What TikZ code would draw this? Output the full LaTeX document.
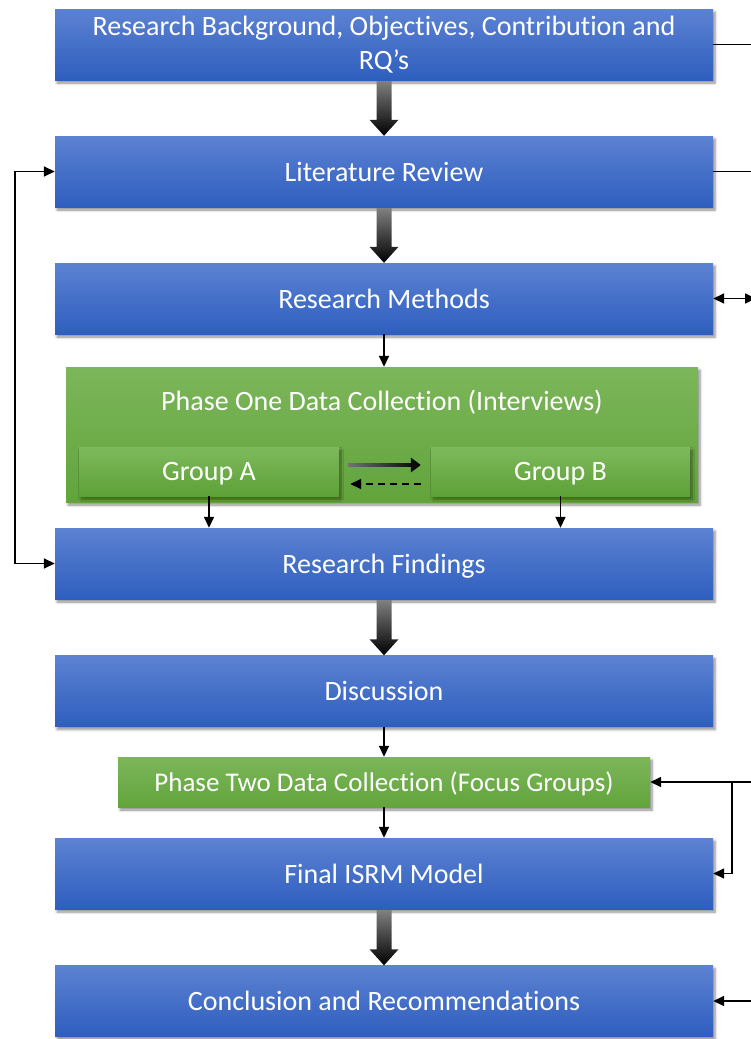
\documentclass[tikz,border=0pt]{standalone}
\usepackage{fontspec}
\setmainfont{Carlito}[RawFeature=-liga]
\usetikzlibrary{arrows.meta,calc,shadows.blur}

\definecolor{blueTop}{RGB}{92,130,210}
\definecolor{blueBot}{RGB}{46,94,190}
\definecolor{greenTop}{RGB}{124,182,90}
\definecolor{greenBot}{RGB}{98,164,60}
\definecolor{gboxTop}{RGB}{126,186,92}
\definecolor{gboxBot}{RGB}{94,160,56}

\begin{document}
\begin{tikzpicture}[x=1pt,y=-1pt,
  boxshadow/.style={blur shadow={shadow xshift=2pt, shadow yshift=-3pt, shadow opacity=45, shadow blur steps=6, shadow blur radius=2.5pt}},
  bluebox/.style={rectangle, inner sep=0pt, minimum width=658pt, minimum height=71pt,
    top color=blueTop, bottom color=blueBot, text=white, align=center, text depth=0pt,
    font=\fontsize{28}{34}\selectfont, boxshadow},
  greenbox/.style={rectangle, inner sep=0pt, top color=greenTop, bottom color=greenBot,
    text=white, align=center, text depth=0pt, boxshadow},
  groupbox/.style={rectangle, inner sep=0pt, minimum width=260pt, minimum height=49pt, text depth=0pt,
    top color=gboxTop, bottom color=gboxBot, text=white, font=\fontsize{28}{32}\selectfont, boxshadow},
  thin/.style={draw=black, line width=1.6pt},
  tip/.style={-{Triangle[length=11pt,width=10pt]}},
  dtip/.style={{Triangle[length=11pt,width=10pt]}-{Triangle[length=11pt,width=10pt]}},
]
\useasboundingbox (0,0) rectangle (751,1039);

% main chain of stages
\node[bluebox, text depth=] (b1) at (384,44.5) {Research Background, Objectives, Contribution and\\RQ’s};
\node[bluebox] (b2) at (384,171.5) {Literature Review};
\node[bluebox] (b3) at (384,298.5) {Research Methods};
\node[greenbox, minimum width=632pt, minimum height=135pt] (g) at (382,434.5) {};
\node[text=white, text depth=0pt, font=\fontsize{28}{32}\selectfont] (gt) at (382,400) {Phase One Data Collection (Interviews)};
\node[groupbox] (ga) at (209,471.5) {Group A};
\node[groupbox, minimum width=259pt] (gb) at (560.5,471.5) {Group B};
\node[bluebox] (b4) at (384,563.5) {Research Findings};
\node[bluebox] (b5) at (384,691) {Discussion};
\node[greenbox, minimum width=532pt, minimum height=50pt, font=\fontsize{27}{30}\selectfont] (p2) at (384,782) {Phase Two Data Collection (Focus Groups)};
\node[bluebox] (b6) at (384,873.5) {Final ISRM Model};
\node[bluebox] (b7) at (384,1001) {Conclusion and Recommendations};

% thick shaded arrows between stages
\newcommand{\fatarrow}[2]{%
  \shade[top color=black!50, bottom color=black]
    ($(#1.south)+(-7.5,1)$) -- ($(#2.north)+(-7.5,-16)$) -- ($(#2.north)+(-14.5,-16)$)
    -- (#2.north) -- ($(#2.north)+(14.5,-16)$) -- ($(#2.north)+(7.5,-16)$)
    -- ($(#1.south)+(7.5,1)$) -- cycle;}
\fatarrow{b1}{b2}
\fatarrow{b2}{b3}
\fatarrow{b4}{b5}
\fatarrow{b6}{b7}

% thin arrows
\draw[thin, tip] (b3.south) -- (b3.south |- g.north);
\draw[thin, tip] (ga.south) -- (ga.south |- b4.north);
\draw[thin, tip] (gb.south) -- (gb.south |- b4.north);
\draw[thin, tip] (b5.south) -- (p2.north);
\draw[thin, tip] (p2.south) -- (b6.north);

% exchange between the two groups
\coordinate (abL) at ($(ga.east)+(9,-6.5)$);
\coordinate (abR) at ($(gb.west)+(-10,-6.5)$);
\shade[left color=black!55, right color=black]
  ($(abL)+(0,-1.8)$) -- ($(abR)+(-10,-1.8)$) -- ($(abR)+(-10,-7.5)$) -- (abR)
  -- ($(abR)+(-10,7.5)$) -- ($(abR)+(-10,1.8)$) -- ($(abL)+(0,1.8)$) -- cycle;
\draw[line width=1.6pt, dash pattern=on 7pt off 5pt, -{Triangle[length=11pt,width=10pt]}]
  ($(gb.west)+(-10,12.5)$) -- ($(ga.east)+(11,12.5)$);

% feedback loop on the left
\coordinate (lft) at (15,171.5);
\draw[thin, dtip] (b2.west) -- (lft) |- (b4.west);

% links leaving on the right
\coordinate (r1) at (751,44.5);
\coordinate (r2) at (751,171.5);
\coordinate (r3) at (756,298.5);
\coordinate (r5) at (751,782);
\coordinate (j5) at (732,782);
\coordinate (r7) at (751,1001);
\draw[thin] (b1.east) -- (r1);
\draw[thin] (b2.east) -- (r2);
\draw[thin, dtip] (b3.east) -- (r3);
\draw[thin, tip] (r5) -- (p2.east);
\draw[thin, tip] (j5) |- (b6.east);
\draw[thin, tip] (r7) -- (b7.east);
\end{tikzpicture}
\end{document}
